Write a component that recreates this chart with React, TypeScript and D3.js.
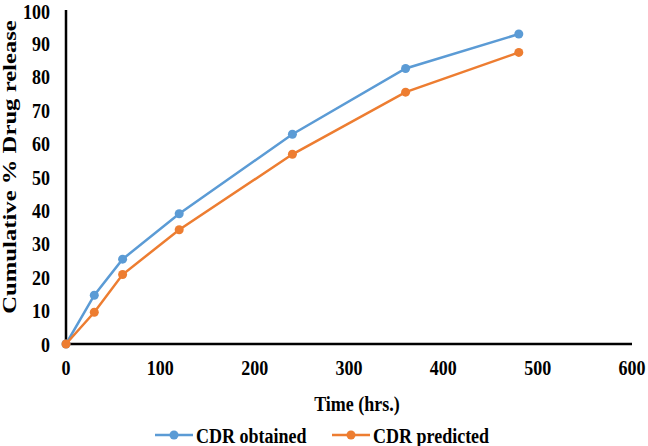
import React from "react";
import * as d3 from "d3";

const times = [0, 30, 60, 120, 240, 360, 480];
const obtained = [0, 14.6, 25.4, 39.0, 62.8, 82.5, 92.8];
const predicted = [0, 9.5, 20.8, 34.2, 56.8, 75.4, 87.3];
const xTicks = [0, 100, 200, 300, 400, 500, 600];
const yTicks = [0, 10, 20, 30, 40, 50, 60, 70, 80, 90, 100];
const seriesNames = ["CDR obtained", "CDR predicted"];
const colors = ["#5B9BD5", "#ED7D31"];

const W = 648, H = 446;
const FONT = "'Liberation Serif', 'Times New Roman', serif";
const SY = 1.2;

function T({ x, y, anchor = "middle", size = 18, children }: any) {
  return (
    <g transform={`translate(${x},${y}) scale(1,${SY})`}>
      <text x={0} y={0} dy="0.35em" textAnchor={anchor} fontSize={size} fontWeight="bold">{children}</text>
    </g>
  );
}

export default function App() {
  const x = d3.scaleLinear().domain([0, 600]).range([66, 632]);
  const y = d3.scaleLinear().domain([0, 100]).range([344, 10]);
  const line = d3.line<number>().x((_, i) => x(times[i])).y((d) => y(d));
  const series = [obtained, predicted];
  const legendX = [155, 332];
  return (
    <svg width={W} height={H} style={{ position: "absolute", left: 0, top: 0, background: "#fff" }} fontFamily={FONT}>
      <rect width={W} height={H} fill="#fff" />
      <line x1={x(0)} x2={x(0)} y1={y(100)} y2={y(0)} stroke="#000" strokeWidth={2.5} />
      <line x1={x(0)} x2={x(600)} y1={y(0)} y2={y(0)} stroke="#000" strokeWidth={2.5} />
      {yTicks.map((t) => (
        <T key={t} x={50} y={y(t) + (t === 100 ? 1 : 0)} anchor="end">{t}</T>
      ))}
      {xTicks.map((t) => (
        <T key={t} x={x(t)} y={367}>{t}</T>
      ))}
      <text transform={`translate(16,167) rotate(-90) scale(1.3,1)`} textAnchor="middle" fontSize={19} fontWeight="bold">Cumulative % Drug release</text>
      <T x={357} y={403}>Time (hrs.)</T>
      {series.map((s, k) => (
        <g key={k}>
          <path d={line(s) || ""} fill="none" stroke={colors[k]} strokeWidth={2.5} />
          {s.map((v, i) => (
            <circle key={i} cx={x(times[i])} cy={y(v)} r={4.5} fill={colors[k]} />
          ))}
        </g>
      ))}
      {seriesNames.map((n, k) => (
        <g key={n}>
          <line x1={legendX[k]} x2={legendX[k] + 38} y1={435} y2={435} stroke={colors[k]} strokeWidth={2.5} />
          <circle cx={legendX[k] + 19} cy={435} r={4.5} fill={colors[k]} />
          <T x={legendX[k] + 41} y={435} anchor="start">{n}</T>
        </g>
      ))}
    </svg>
  );
}
